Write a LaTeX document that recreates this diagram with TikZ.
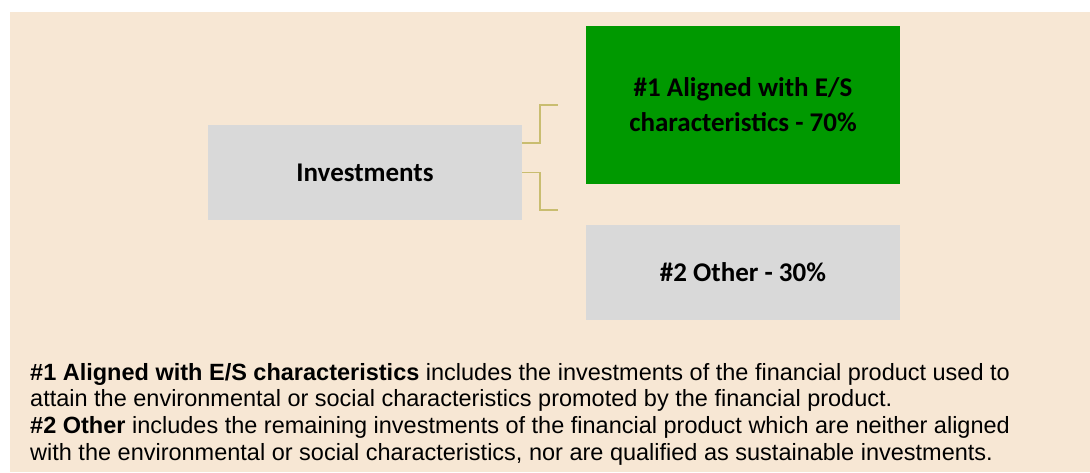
\documentclass[tikz,border=0pt]{standalone}
\usepackage{fontspec}
\setmainfont{Liberation Sans}
\newfontfamily\boxfont{Carlito}
\definecolor{bgsand}{RGB}{247,231,212}
\definecolor{boxgray}{RGB}{217,217,217}
\definecolor{aligngreen}{RGB}{0,153,0}
\definecolor{linkolive}{RGB}{201,189,112}

\begin{document}
\begin{tikzpicture}[x=1pt, y=-1pt,
    box/.style={minimum width=314pt, minimum height=95pt, inner sep=0pt, align=center,
                font=\boxfont\bfseries\fontsize{27}{35}\selectfont},
    link/.style={draw=linkolive, line width=1.5pt}]
            \useasboundingbox (0,0) rectangle (1090,472);
            \fill[bgsand] (10,12) rectangle (1090,472);
            \node[box, fill=boxgray] (inv) at (365,172.5) {Investments};
            \node[box, fill=aligngreen, minimum height=158pt] (align) at (743,105) {\#1 Aligned with E/S\\characteristics - 70\%};
            \node[box, fill=boxgray] (other) at (743,272) {\#2 Other - 30\%};
            \coordinate (c1) at (558,105); \coordinate (c2) at (558,210);
            \draw[link] ([yshift=-18pt]inv.north east) -- ++(18,0) |- (c1);
            \draw[link] (inv.east) -- ++(18,0) |- (c2);
            \node[anchor=base west, align=left, inner sep=0pt, font=\fontsize{23.5}{26.8}\selectfont] (note) at (30,460.4)
                {\textbf{\#1 Aligned with E/S characteristics} includes the investments of the financial product used to\\
                 attain the environmental or social characteristics promoted by the financial product.\\
                 \textbf{\#2 Other} includes the remaining investments of the financial product which are neither aligned\\
                 with the environmental or social characteristics, nor are qualified as sustainable investments.};
        \end{tikzpicture}
\end{document}
